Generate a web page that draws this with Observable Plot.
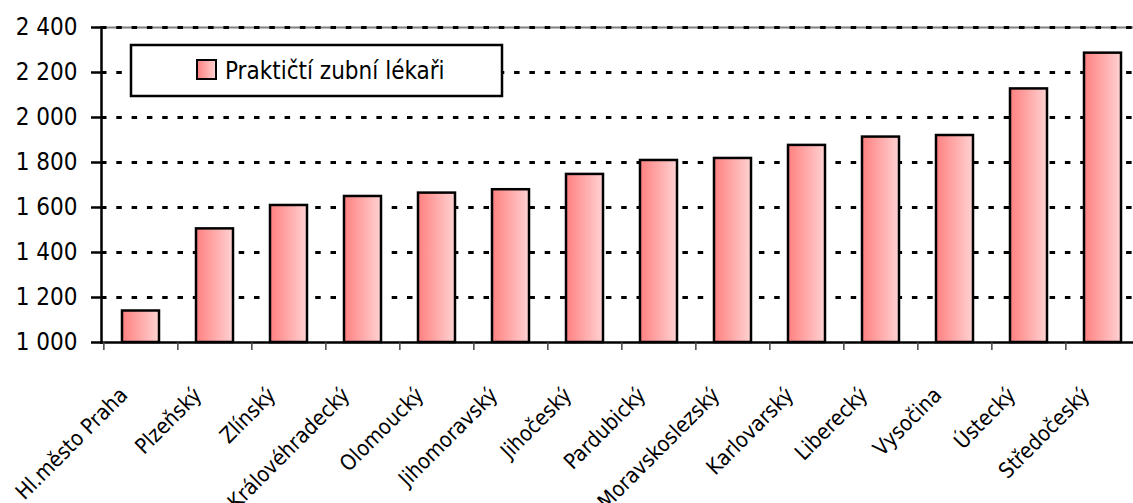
<!DOCTYPE html>
<html><head><meta charset="utf-8">
<script src="https://cdn.jsdelivr.net/npm/d3@7"></script>
<script src="https://cdn.jsdelivr.net/npm/@observablehq/plot@0.6"></script>
<style>
html,body{margin:0;padding:0;background:#fff;overflow:hidden;}
#chart{width:1133px;height:503px;overflow:hidden;}
#chart svg{max-width:none !important;}
#chart text{font-stretch:condensed;}
</style></head><body><div id="chart"></div>
<script>
const regions = ["Hl.město Praha","Plzeňský","Zlínský","Královéhradecký","Olomoucký","Jihomoravský","Jihočeský","Pardubický","Moravskoslezský","Karlovarský","Liberecký","Vysočina","Ústecký","Středočeský"];
const dentists = [1140,1505,1609,1649,1664,1679,1747,1809,1818,1876,1913,1920,2127,2286];
const yTicks = [1000,1200,1400,1600,1800,2000,2200,2400];
const gridLines = [1200,1400,1600,1800,2000,2200,2400];
const seriesName = "Praktičtí zubní lékaři";

const data = regions.map((r,i)=>({region:r, value:dentists[i]}));

const W = 1145, H = 503;
const mL = 101, mR = 4, mT = 27, mB = 161;
const bandW = (W - mL - mR) / regions.length;
const font = '"DejaVu Sans Condensed","DejaVu Sans",sans-serif';
const fmt = d => String(d).replace(/\B(?=(\d{3})+(?!\d))/g, "\u00a0");

const plot = Plot.plot({
  width: W, height: H,
  marginLeft: mL, marginRight: mR, marginTop: mT, marginBottom: mB,
  style: {fontFamily: font, fontSize: "24px", color: "#000", background: "#fff", maxWidth: "none"},
  x: {domain: regions, paddingInner: 0.5, paddingOuter: 0.25},
  y: {domain: [1000, 2400]},
  marks: [
    Plot.ruleY([2400], {stroke: "#808080", strokeWidth: 2}),
    Plot.ruleY(gridLines, {stroke: "#000", strokeWidth: 3, strokeDasharray: "5.5,9.8"}),
    Plot.barY(data, {x: "region", y1: 1000, y2: "value", fill: "url(#barGrad)", stroke: "#000", strokeWidth: 2.5}),
    Plot.frame({anchor: "left", stroke: "#000", strokeWidth: 2.5}),
    Plot.frame({anchor: "bottom", stroke: "#000", strokeWidth: 2.5}),
    Plot.axisY({ticks: yTicks, tickFormat: fmt, tickSize: 10, tickPadding: 14, label: null, strokeWidth: 2.5}),
    Plot.axisX({tickSize: 8, tickFormat: () => "", dx: -bandW / 2, stroke: "#444", strokeWidth: 1.5, label: null}),
    Plot.axisX({tickSize: 0, tickRotate: -45, tickPadding: 49, dx: -17, fontSize: 21.5, label: null})
  ]
});
plot.style.maxWidth = "none";

const svg = d3.select(plot);
const grad = svg.insert("defs", ":first-child").append("linearGradient")
  .attr("id", "barGrad").attr("x1", "0").attr("x2", "1").attr("y1", "0").attr("y2", "0");
grad.append("stop").attr("offset", "0%").attr("stop-color", "#ff8080");
grad.append("stop").attr("offset", "100%").attr("stop-color", "#ffd2d2");

const lg = svg.append("g").attr("class", "legend");
lg.append("rect").attr("x", 131).attr("y", 45).attr("width", 371).attr("height", 51)
  .attr("fill", "#fff").attr("stroke", "#000").attr("stroke-width", 2.5);
lg.append("rect").attr("x", 197).attr("y", 60).attr("width", 19).attr("height", 19)
  .attr("fill", "url(#barGrad)").attr("stroke", "#000").attr("stroke-width", 2);
lg.append("text").attr("x", 225).attr("y", 79).attr("font-family", font).attr("font-size", 24)
  .attr("text-anchor", "start").attr("fill", "#000").text(seriesName);

document.getElementById("chart").appendChild(plot);
</script></body></html>
